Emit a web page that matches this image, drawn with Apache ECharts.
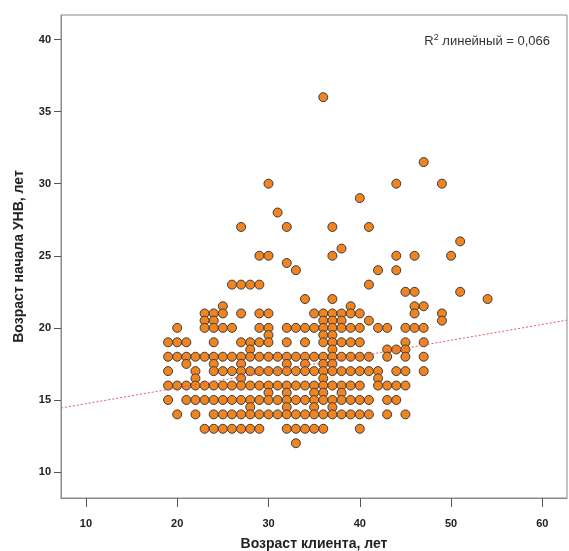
<!DOCTYPE html>
<html>
<head>
<meta charset="utf-8">
<script src="https://cdn.jsdelivr.net/npm/echarts@6/dist/echarts.min.js"></script>
<style>
    html, body { margin: 0; background: #fff; }
    #main { width: 569px; height: 551px; }
</style>
</head>
<body>
<div id="main"></div>
<script>
// возраст начала (ось Y) по строкам точек
var onsetRows = [36, 31.5, 30, 29, 28, 27, 26, 25.5, 25, 24.5, 24, 23, 22.5, 22, 21.5, 21, 20.5, 20,
    19.5, 19, 18.5, 18, 17.5, 17, 16.5, 16, 15.5, 15, 14.5, 14, 13, 12];
// возраст клиента (ось X) для каждой строки
var clientAgeRows = [
    [36],
    [47],
    [30, 44, 49],
    [40],
    [31],
    [27, 32, 37, 41],
    [51],
    [38],
    [29, 30, 37, 44, 46, 50],
    [32],
    [33, 42, 44],
    [26, 27, 28, 29, 41],
    [45, 46, 51],
    [34, 37, 54],
    [25, 39, 46, 47],
    [23, 24, 25, 27, 29, 30, 35, 36, 37, 38, 39, 40, 46, 49],
    [23, 24, 36, 37, 38, 41, 49],
    [20, 23, 24, 25, 26, 29, 30, 32, 33, 34, 35, 36, 37, 38, 39, 40, 42, 43, 45, 46, 47],
    [30, 36, 37],
    [19, 20, 21, 24, 27, 28, 29, 30, 32, 34, 36, 37, 38, 39, 40, 45, 47],
    [28, 37, 43, 44, 45],
    [19, 20, 21, 22, 23, 24, 25, 26, 27, 28, 29, 30, 31, 32, 33, 34, 35, 36, 37, 38, 39, 40, 41, 43, 45, 47],
    [21, 24, 27, 32, 34, 36, 37],
    [19, 22, 24, 25, 26, 27, 28, 29, 30, 31, 32, 33, 34, 35, 36, 37, 38, 39, 40, 41, 42, 44, 45, 47],
    [22, 27, 36, 42],
    [19, 20, 21, 22, 23, 24, 25, 26, 27, 28, 29, 30, 31, 32, 33, 34, 35, 36, 37, 38, 39, 40, 42, 43, 44, 45],
    [30, 32, 35, 36, 38],
    [19, 21, 22, 23, 24, 25, 26, 27, 28, 29, 30, 31, 32, 33, 34, 35, 36, 37, 38, 39, 40, 41, 43, 44],
    [28, 32, 35, 37],
    [20, 22, 24, 25, 26, 27, 28, 29, 30, 31, 32, 33, 34, 35, 36, 37, 38, 39, 40, 41, 43, 45],
    [23, 24, 25, 26, 27, 28, 29, 32, 33, 34, 35, 36, 40],
    [33]
];

var xTicks = [10, 20, 30, 40, 50, 60];
var yTicks = [10, 15, 20, 25, 30, 35, 40];
var xRange = [7.27, 62.7];
var yRange = [8.2, 41.7];

// линейная аппроксимация
var fitIntercept = 13.64;
var fitSlope = 0.110;
var r2Text = '0,066';

var points = [];
onsetRows.forEach(function (v, i) {
    clientAgeRows[i].forEach(function (a) {
        points.push([a, v]);
    });
});

var fitLine = xRange.map(function (x) {
    return [x, fitIntercept + fitSlope * x];
});

var myChart = echarts.init(document.getElementById('main'));
myChart.setOption({
    animation: false,
    backgroundColor: '#ffffff',
    textStyle: { fontFamily: 'Liberation Sans, Arial, sans-serif' },
    title: {
        text: '{a|R}{sup|2}{a| линейный = ' + r2Text + '}',
        right: 14,
        top: 28,
        textStyle: {
            fontWeight: 'normal',
            rich: {
                a: { fontSize: 13, color: '#333', fontWeight: 'normal', fontFamily: 'Liberation Sans' },
                sup: { fontSize: 9, color: '#333', fontWeight: 'normal', verticalAlign: 'top', padding: [0, 0, 8, 0], fontFamily: 'Liberation Sans' }
            }
        }
    },
    grid: {
        left: 61,
        top: 15,
        right: 2,
        bottom: 53,
        containLabel: false,
        outerBoundsMode: 'none',
        show: true,
        borderColor: '#8a8a8a',
        borderWidth: 1
    },
    xAxis: {
        type: 'value',
        min: xRange[0],
        max: xRange[1],
        name: 'Возраст клиента, лет',
        nameLocation: 'middle',
        nameGap: 39,
        nameTextStyle: { fontSize: 14, fontWeight: 'bold', color: '#222' },
        splitLine: { show: false },
        axisLine: { lineStyle: { color: '#8a8a8a' } },
        axisTick: { customValues: xTicks, length: 9, lineStyle: { color: '#555' } },
        axisLabel: { customValues: xTicks, margin: 20, fontSize: 11, fontWeight: 'bold', color: '#222' }
    },
    yAxis: {
        type: 'value',
        min: yRange[0],
        max: yRange[1],
        name: 'Возраст начала УНВ, лет',
        nameLocation: 'middle',
        nameGap: 35,
        nameTextStyle: { fontSize: 14, fontWeight: 'bold', color: '#222' },
        splitLine: { show: false },
        axisLine: { show: true, lineStyle: { color: '#8a8a8a' } },
        axisTick: { customValues: yTicks, length: 7, lineStyle: { color: '#555' } },
        axisLabel: { customValues: yTicks, margin: 10, fontSize: 11, fontWeight: 'bold', color: '#222' }
    },
    series: [
        {
            type: 'scatter',
            data: points,
            symbolSize: 9,
            itemStyle: {
                color: '#ef8420',
                opacity: 1,
                borderColor: '#3c3c3c',
                borderWidth: 1
            }
        },
        {
            type: 'line',
            data: fitLine,
            symbol: 'none',
            z: 5,
            lineStyle: { color: '#e8585c', width: 1, type: [2, 2] }
        }
    ]
});
</script>
</body>
</html>
